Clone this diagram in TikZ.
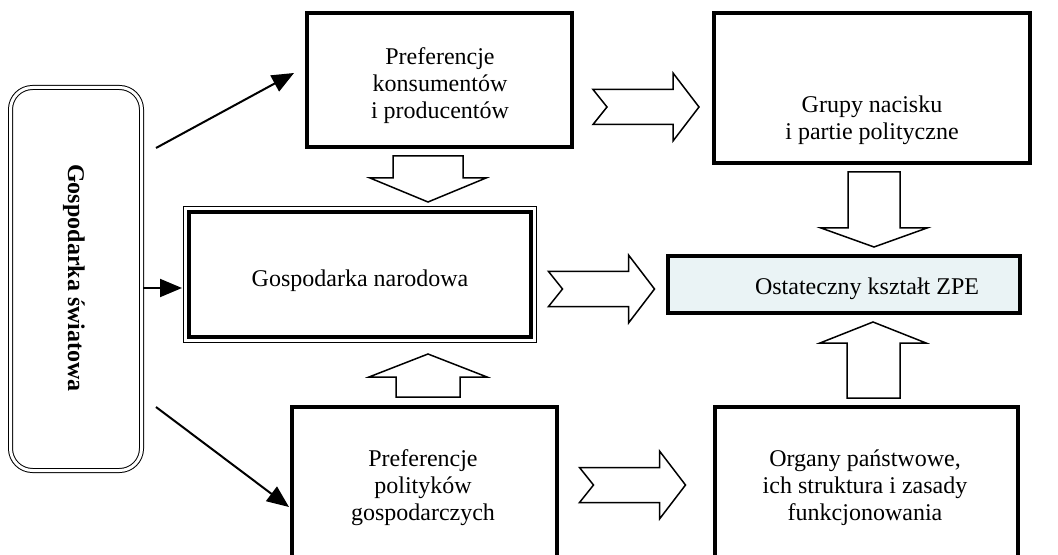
\documentclass[tikz,border=0pt]{standalone}
\usepackage{fontspec}
\setmainfont{Liberation Serif}
\usetikzlibrary{arrows.meta,calc}
\definecolor{zpefill}{RGB}{234,243,245}
\tikzset{
  frame/.style={draw=black, line width=1.6pt, line join=miter},
  txt/.style={align=center, font=\fontsize{12}{13.5}\selectfont, inner sep=0pt},
  influence/.style={line width=1pt, -{Triangle[length=11pt,width=9pt]}},
  blockarrow/.style={draw=black, line width=0.75pt, fill=white, line join=miter},
  notched right/.pic={
    \path[blockarrow] (-53,-17.5) -- (27,-17.5) -- (27,-34) -- (53,0)
      -- (27,34) -- (27,17.5) -- (-53,17.5) -- (-39,0) -- cycle;
  },
}
\begin{document}
\begin{tikzpicture}[x=0.5pt,y=-0.5pt]
\useasboundingbox (0,0) rectangle (1058,555);

% world economy: rounded double frame with vertical title
\draw[line width=0.5pt, double, double distance=1.5pt, rounded corners=11pt]
  (10.5,87.5) rectangle (141.5,470.5);
\node[txt, font=\fontsize{12}{13.5}\selectfont\bfseries, rotate=-90] (world) at (74,278) {Gospodarka światowa};

% consumers and producers
\path[frame] (307,13) rectangle (572,147);
\node[txt] (pref) at (440,86) {Preferencje\\konsumentów\\i producentów};

% pressure groups and parties
\path[frame] (714,13) rectangle (1030,163);
\node[txt] (groups) at (872,120) {Grupy nacisku\\i partie polityczne};

% national economy: thin outer and thick inner frame
\draw[line width=0.5pt] (183.5,206.5) rectangle (536.5,342.5);
\draw[line width=2.25pt] (189,212) rectangle (531,337);
\node[txt] (nat) at (360,281) {Gospodarka narodowa};

% final shape of the policy
\path[frame, fill=zpefill] (668,256) rectangle (1020,313);
\node[txt] (zpe) at (867,289) {Ostateczny kształt ZPE};

% lower boxes run past the bottom edge
\begin{scope}
  \clip (0,0) rectangle (1058,555);
  \draw[frame] (292,570) |- (557,407) -- (557,570);
  \draw[frame] (715,570) |- (1018,407) -- (1018,570);
\end{scope}
\node[txt] (pol) at (423,488) {Preferencje\\polityków\\gospodarczych};
\node[txt] (org) at (865,488) {Organy państwowe,\\ich struktura i zasady\\funkcjonowania};

% influences of the world economy
\coordinate (w1) at (156,148);
\coordinate (w2) at (143,288);
\coordinate (w3) at (156,407);
\coordinate (t1) at (294,73);
\coordinate (t2) at (182,288);
\coordinate (t3) at (289,507);
\draw[influence] (w1) -- (t1);
\draw[influence] (w2) -- (t2);
\draw[influence] (w3) -- (t3);

% horizontal block arrows
\pic at (646,107) {notched right};
\pic at (601.5,289) {notched right};
\pic at (632.5,485) {notched right};

% vertical block arrows
\path[blockarrow] (393,156) -- (463,156) -- (463,178) -- (486,178)
  -- (428,202) -- (370,178) -- (393,178) -- cycle;
\path[blockarrow] (848,172) -- (900,172) -- (900,228) -- (927,228)
  -- (874,247) -- (821,228) -- (848,228) -- cycle;
\path[blockarrow] (396,397) -- (460,397) -- (460,377) -- (487,377)
  -- (428,354) -- (369,377) -- (396,377) -- cycle;
\path[blockarrow] (847,398) -- (900,398) -- (900,343) -- (926,343)
  -- (873,322) -- (820,343) -- (847,343) -- cycle;
\end{tikzpicture}
\end{document}
